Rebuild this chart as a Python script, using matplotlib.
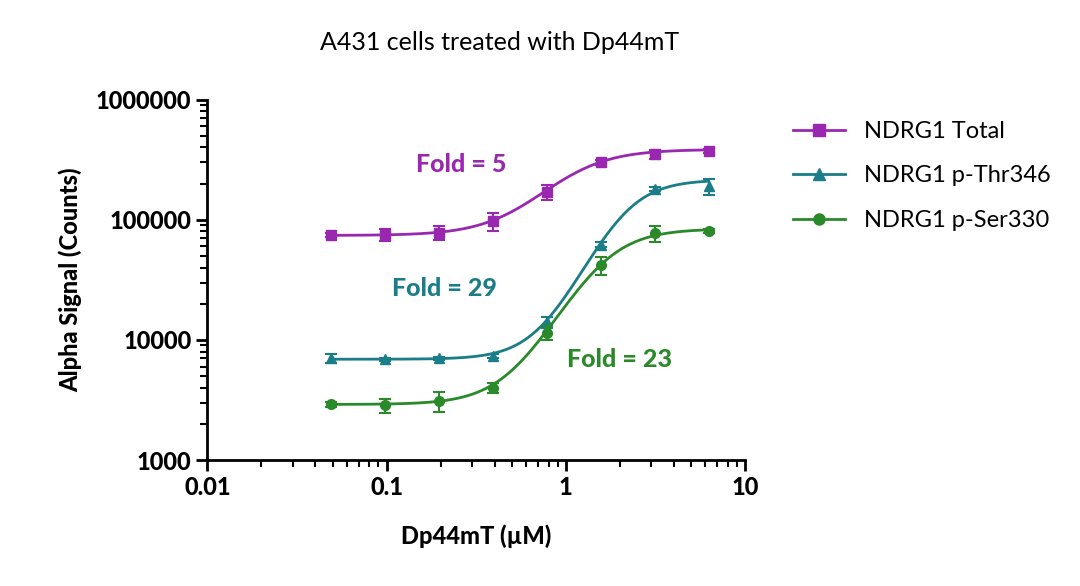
import numpy as np
import matplotlib
matplotlib.use('Agg')
import matplotlib.pyplot as plt

matplotlib.rc('font', **{'family': 'sans-serif', 'sans-serif': ['Lato'], 'size': 14})

conc = [0.049, 0.098, 0.195, 0.39, 0.78, 1.56, 3.125, 6.25]

total = [75000, 75000, 78000, 97000, 170000, 300000, 350000, 375000]
total_err = [3000, 9000, 10000, 16000, 25000, 15000, 30000, 15000]
thr = [7000, 6900, 7000, 7400, 14000, 62000, 180000, 190000]
thr_err = [600, 200, 200, 300, 1500, 3000, 8000, 30000]
ser = [2900, 2850, 3100, 4000, 11500, 42000, 77000, 80000]
ser_err = [150, 400, 600, 400, 1500, 7000, 12000, 3000]

# 4PL fit parameters: bottom, top, EC50, Hill slope
fit_total = (74000, 385000, 1.04, 2.5)
fit_thr = (6900, 215000, 2.1, 3.3)
fit_ser = (2900, 84000, 1.6, 2.9)

labels = ['NDRG1 Total', 'NDRG1 p-Thr346', 'NDRG1 p-Ser330']
colors = ['#9a27b0', '#1a7d87', '#2a8a2a']
markers = ['s', '^', 'o']
fold_text = ['Fold = 5', 'Fold = 29', 'Fold = 23']


def four_pl(x, p):
    b, t, ec, h = p
    return b + (t - b) / (1 + (ec / x) ** h)


fig = plt.figure(figsize=(10.8, 5.86), dpi=100)
ax = fig.add_axes([0.192, 0.215, 0.498, 0.615])

xs = np.logspace(np.log10(0.049), np.log10(6.25), 300)
for y, e, p, c, m, lab in zip([total, thr, ser], [total_err, thr_err, ser_err],
                               [fit_total, fit_thr, fit_ser], colors, markers, labels):
    ax.plot(xs, four_pl(xs, p), color=c, lw=2)
    ax.errorbar(conc, y, yerr=e, fmt='none', ecolor=c, elinewidth=1.5, capsize=4, capthick=1.5)
    ax.plot([], [], color=c, lw=2, marker=m, ms=8, label=lab)
    ax.plot(conc, y, ls='none', marker=m, ms=7, color=c)

ax.set_xscale('log')
ax.set_yscale('log')
ax.set_xlim(0.01, 10)
ax.set_ylim(1000, 1000000)
ax.set_xticks([0.01, 0.1, 1, 10])
ax.set_xticklabels(['0.01', '0.1', '1', '10'])
ax.set_yticks([1000, 10000, 100000, 1000000])
ax.set_yticklabels(['1000', '10000', '100000', '1000000'])
ax.tick_params(which='major', width=2, length=8, labelsize=17)
ax.tick_params(which='minor', width=1.5, length=5)
for lbl in ax.get_xticklabels() + ax.get_yticklabels():
    lbl.set_fontweight('heavy')
for s in ['top', 'right']:
    ax.spines[s].set_visible(False)
for s in ['left', 'bottom']:
    ax.spines[s].set_linewidth(2)

ax.set_xlabel('Dp44mT (µM)', fontweight='heavy', fontsize=17, labelpad=18)
ax.set_ylabel('Alpha Signal (Counts)', fontweight='heavy', fontsize=17, labelpad=10)
fig.text(0.463, 0.915, 'A431 cells treated with Dp44mT', ha='center', fontsize=18)

ax.text(0.26, 250000, fold_text[0], color=colors[0], fontsize=18, fontweight='heavy', ha='center')
ax.text(0.21, 23000, fold_text[1], color=colors[1], fontsize=18, fontweight='heavy', ha='center')
ax.text(2.0, 6000, fold_text[2], color=colors[2], fontsize=18, fontweight='heavy', ha='center')

ax.legend(loc='upper left', bbox_to_anchor=(1.05, 1.0), frameon=False, fontsize=17,
          labelspacing=1.0, handlelength=2.2)

fig.savefig('out.png', dpi=100)
